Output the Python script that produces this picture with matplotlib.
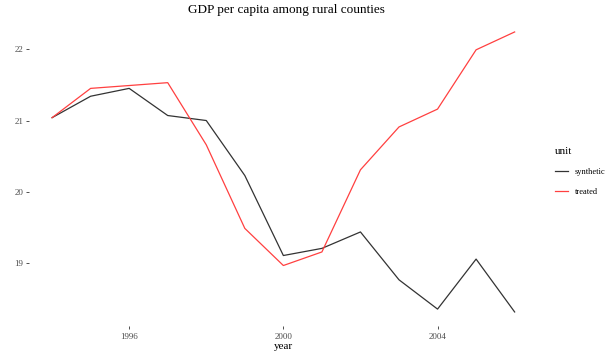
import numpy as np
import matplotlib
matplotlib.use('Agg')
import matplotlib.pyplot as plt

plt.rcParams['font.family'] = ['Liberation Serif', 'DejaVu Serif']

years = list(range(1994, 2007))
treated = [21.04, 21.45, 21.49, 21.53, 20.66, 19.49, 18.97, 19.16, 20.31, 20.91, 21.16, 21.99, 22.24]
synthetic = [21.04, 21.34, 21.45, 21.07, 21.00, 20.23, 19.11, 19.21, 19.44, 18.77, 18.36, 19.06, 18.32]

fig = plt.figure(figsize=(6.16, 3.52), dpi=100)
ax = fig.add_axes([0.047, 0.074, 0.826, 0.875])

l1, = ax.plot(years, synthetic, color='#333333', linewidth=0.9, label='synthetic')
l2, = ax.plot(years, treated, color='#FF4040', linewidth=0.9, label='treated')

ax.set_xlim(1994 - 0.6, 2006 + 0.6)
lo, hi = min(synthetic), max(treated)
pad = (hi - lo) * 0.05
ax.set_ylim(lo - pad, hi + pad)

ax.set_xticks([1996, 2000, 2004])
ax.set_yticks([19, 20, 21, 22])
for s in ax.spines.values():
    s.set_visible(False)
ax.tick_params(axis='both', labelsize=6.5, length=2, width=0.6, color='#333333', labelcolor='#4d4d4d', pad=2)
ax.tick_params(axis='x', pad=3)

ax.set_xlabel('year', fontsize=8, labelpad=1)
fig.text(0.047 + 0.826 / 2 + 0.005, 1 - 10 / 352, 'GDP per capita among rural counties',
         fontsize=9.5, ha='center', va='center')

leg = fig.legend(handles=[l1, l2], title='unit', loc='upper left', bbox_to_anchor=(0.888, 0.604),
                 frameon=False, fontsize=6, title_fontsize=8, handlelength=1.6, labelspacing=1.45)
leg._legend_box.align = 'left'

fig.savefig('out.png', dpi=100)
